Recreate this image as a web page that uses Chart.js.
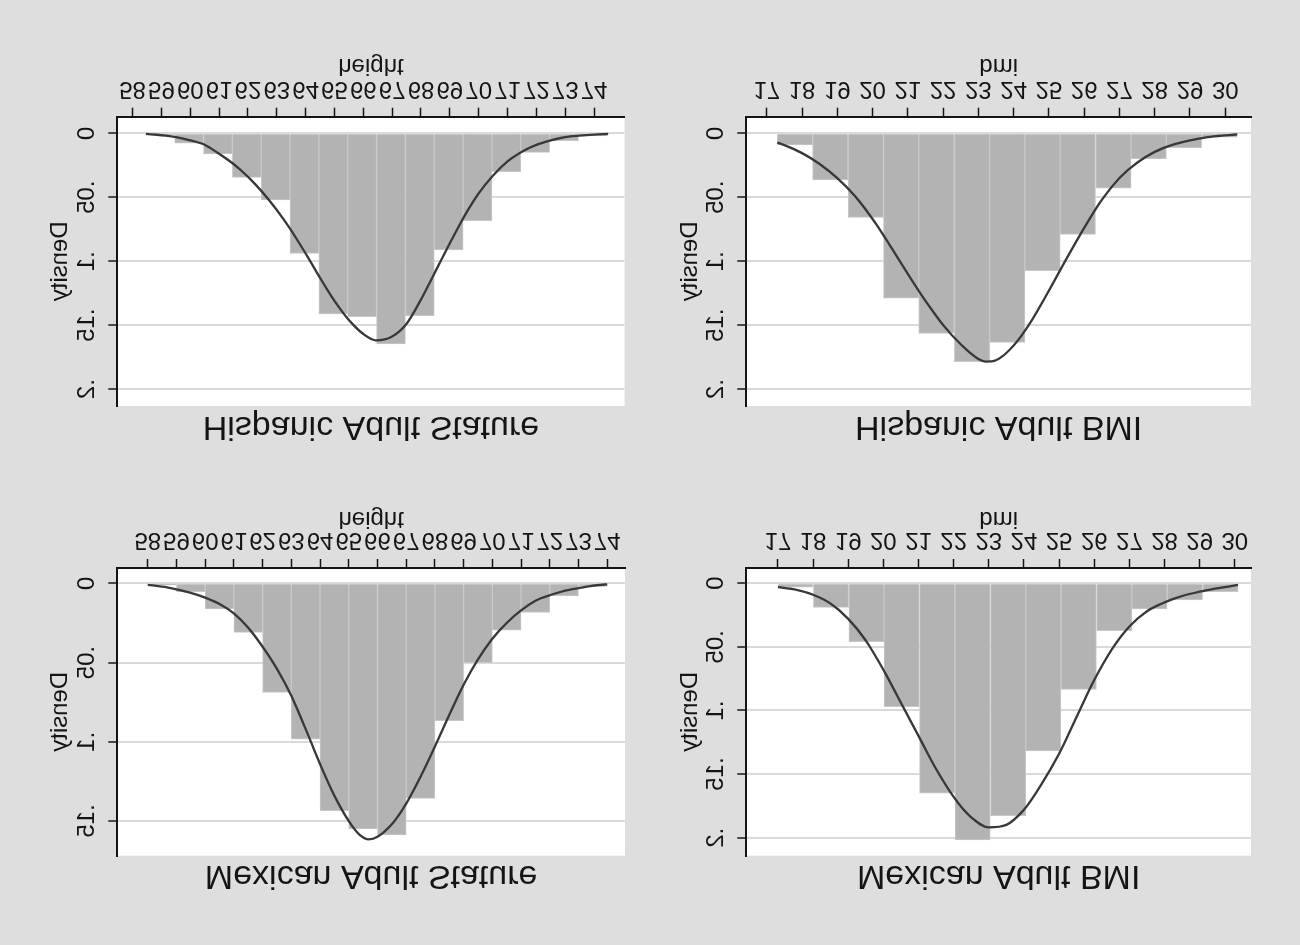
<!DOCTYPE html>
<html>
<head>
<meta charset="utf-8">
<script src="https://cdn.jsdelivr.net/npm/chart.js@4.4.1/dist/chart.umd.min.js"></script>
<style>
  html, body { margin: 0; padding: 0; background: #dedede; }
  #page { position: relative; width: 1300px; height: 945px; overflow: hidden; }
  canvas { position: absolute; transform: scaleY(-1); }
</style>
</head>
<body>
<div id="page">
  <canvas id="hispStature" width="650" height="473" style="left:0;top:0"></canvas>
  <canvas id="hispBmi" width="650" height="473" style="left:650px;top:0"></canvas>
  <canvas id="mexStature" width="650" height="472" style="left:0;top:473px"></canvas>
  <canvas id="mexBmi" width="650" height="472" style="left:650px;top:473px"></canvas>
</div>
<script>
  // tick labels
  const statureTicks = [58,59,60,61,62,63,64,65,66,67,68,69,70,71,72,73,74];
  const bmiTicks = [17,18,19,20,21,22,23,24,25,26,27,28,29,30];
  const densityTicks = [0, 0.05, 0.1, 0.15, 0.2];
  const densityLabels = ['0', '.05', '.1', '.15', '.2'];

  // Hispanic stature: histogram bins (centres) and heights, density curve
  const hispStatureBins = [58.96,59.96,60.96,61.96,62.96,63.96,64.96,65.96,66.96,67.96,68.96,69.96,70.96,71.96,72.96,73.96];
  const hispStatureHist = [0.001,0.0078,0.0162,0.0344,0.0521,0.0939,0.1413,0.1434,0.1648,0.1426,0.0913,0.0683,0.030,0.0149,0.0057,0.002];
  const hispStatureCurveX = [58.46,59,59.5,60,60.5,61,61.5,62,62.5,63,63.5,64,64.5,65,65.5,66,66.44,67,67.5,68,68.5,69,69.5,70,70.5,71,71.5,72,72.5,73,73.5,74,74.49];
  const hispStatureCurveY = [0.0005,0.0015,0.003,0.0055,0.009,0.016,0.024,0.034,0.046,0.060,0.076,0.094,0.113,0.131,0.146,0.157,0.162,0.159,0.149,0.130,0.108,0.086,0.065,0.047,0.033,0.022,0.0145,0.009,0.0055,0.003,0.0018,0.001,0.0005];

  // Hispanic BMI
  const hispBmiBins = [17.8,18.8,19.81,20.81,21.81,22.82,23.82,24.82,25.82,26.83,27.83,28.83,29.84];
  const hispBmiHist = [0.0091,0.0365,0.0657,0.129,0.1565,0.1786,0.1635,0.1074,0.079,0.043,0.020,0.0112,0.0031];
  const hispBmiCurveX = [17.3,17.5,18,18.5,19,19.5,20,20.5,21,21.5,22,22.5,23,23.2,23.5,24,24.5,25,25.5,26,26.5,27,27.5,28,28.5,29,29.5,30,30.34];
  const hispBmiCurveY = [0.0073,0.0092,0.0155,0.024,0.035,0.049,0.067,0.088,0.110,0.131,0.150,0.165,0.1765,0.1786,0.1775,0.166,0.147,0.123,0.098,0.074,0.052,0.035,0.023,0.0145,0.009,0.0055,0.003,0.0016,0.0009];

  // Mexican stature
  const mexStatureBins = [58.5,59.5,60.5,61.5,62.5,63.5,64.5,65.5,66.5,67.5,68.5,69.5,70.5,71.5,72.5,73.5];
  const mexStatureHist = [0.001,0.0053,0.0162,0.0309,0.0688,0.0983,0.1435,0.155,0.1588,0.1357,0.0867,0.0501,0.0295,0.0183,0.008,0.002];
  const mexStatureCurveX = [58,58.5,59,59.5,60,60.5,61,61.5,62,62.5,63,63.5,64,64.5,65,65.4,65.7,66,66.5,67,67.5,68,68.5,69,69.5,70,70.5,71,71.5,72,72.5,73,73.5,74];
  const mexStatureCurveY = [0.001,0.002,0.0038,0.006,0.009,0.013,0.019,0.028,0.040,0.054,0.071,0.092,0.114,0.134,0.150,0.159,0.1616,0.160,0.152,0.139,0.122,0.103,0.083,0.064,0.048,0.035,0.025,0.017,0.011,0.0075,0.0048,0.003,0.0015,0.0006];

  // Mexican BMI
  const mexBmiBins = [17.5,18.51,19.52,20.52,21.53,22.54,23.55,24.55,25.56,26.57,27.57,28.58,29.59];
  const mexBmiHist = [0.003,0.0189,0.0459,0.097,0.165,0.2018,0.1827,0.1318,0.0834,0.0372,0.0202,0.0131,0.0066];
  const mexBmiCurveX = [17,17.5,18,18.5,19,19.5,20,20.5,21,21.5,22,22.5,23,23.5,24,24.5,25,25.5,26,26.5,27,27.5,28,28.5,29,29.5,30.09];
  const mexBmiCurveY = [0.003,0.005,0.009,0.016,0.028,0.045,0.068,0.094,0.120,0.146,0.168,0.184,0.192,0.190,0.178,0.158,0.134,0.105,0.076,0.052,0.034,0.022,0.015,0.010,0.0066,0.004,0.0013];

  const FONT = "'Liberation Sans', Arial, Helvetica, sans-serif";
  const INK = '#141414';

  const plotBg = {
    id: 'plotBg',
    beforeDraw(chart) {
      const { ctx, chartArea: a } = chart;
      ctx.save();
      ctx.fillStyle = '#ffffff';
      ctx.fillRect(a.left, a.top, a.right - a.left, a.bottom - a.top);
      ctx.restore();
    }
  };

  function makePanel(id, p) {
    const yTicks = densityTicks.filter(v => v <= p.yMax);
    new Chart(document.getElementById(id), {
      type: 'bar',
      data: {
        datasets: [
          {
            type: 'line',
            data: p.curveX.map((x, i) => ({ x: x, y: p.curveY[i] })),
            borderColor: '#383838',
            borderWidth: 2.3,
            pointRadius: 0,
            fill: false,
            cubicInterpolationMode: 'monotone'
          },
          {
            type: 'bar',
            data: p.bins.map((x, i) => ({ x: x, y: p.hist[i] })),
            backgroundColor: '#b3b3b3',
            borderColor: '#c8c8c8',
            borderWidth: 1,
            barPercentage: 1,
            categoryPercentage: 1
          }
        ]
      },
      options: {
        responsive: false,
        animation: false,
        events: [],
        layout: { padding: { left: 0, right: p.right, top: 0, bottom: 0 } },
        plugins: {
          legend: { display: false },
          tooltip: { enabled: false },
          title: {
            display: true,
            fullSize: false,
            text: p.title,
            color: INK,
            font: { family: FONT, size: 34, weight: 'normal', lineHeight: 1.15 },
            padding: { top: p.titleTop, bottom: p.titleBottom }
          }
        },
        scales: {
          x: {
            type: 'linear',
            min: p.xMin,
            max: p.xMax,
            offset: false,
            afterBuildTicks: s => { s.ticks = p.xTicks.map(v => ({ value: v })); },
            afterFit: s => { s.height = p.xHeight; },
            grid: { offset: false, drawOnChartArea: false, drawTicks: true, tickLength: 9, tickColor: INK, tickWidth: 1.5 },
            border: { display: true, color: INK, width: 2 },
            ticks: {
              autoSkip: false, maxRotation: 0, minRotation: 0, padding: 4.8,
              color: INK, font: { family: FONT, size: 24 },
              callback: v => String(v)
            },
            title: {
              display: true, text: p.xTitle, color: INK,
              font: { family: FONT, size: 24 },
              padding: { top: 0, bottom: p.xTitlePad }
            }
          },
          y: {
            min: p.yMin,
            max: p.yMax,
            afterBuildTicks: s => { s.ticks = yTicks.map(v => ({ value: v })); },
            afterFit: s => { s.width = p.yWidth; },
            grid: { color: '#dadada', lineWidth: 2, drawTicks: true, tickLength: 9, tickColor: INK, tickWidth: 1.5 },
            border: { display: true, color: INK, width: 2 },
            ticks: {
              minRotation: 90, maxRotation: 90, crossAlign: 'center', padding: 4.6,
              color: INK, font: { family: FONT, size: 24 },
              callback: (v, i) => densityLabels[densityTicks.indexOf(yTicks[i])]
            },
            title: {
              display: true, text: 'Density', color: INK,
              font: { family: FONT, size: 24 },
              padding: { top: p.yTitlePad, bottom: 0 }
            }
          }
        }
      },
      plugins: [plotBg]
    });
  }

  makePanel('hispStature', {
    title: 'Hispanic Adult Stature', xTitle: 'height', xTicks: statureTicks,
    xMin: 57.47, xMax: 75.06, yMin: -0.013, yMax: 0.2133,
    bins: hispStatureBins, hist: hispStatureHist, curveX: hispStatureCurveX, curveY: hispStatureCurveY,
    yWidth: 117.3, xHeight: 116.7, right: 25.4, titleTop: 27.45, titleBottom: 0.45, yTitlePad: 45.6, xTitlePad: 50.8
  });
  makePanel('hispBmi', {
    title: 'Hispanic Adult BMI', xTitle: 'bmi', xTicks: bmiTicks,
    xMin: 16.42, xMax: 30.73, yMin: -0.013, yMax: 0.2133,
    bins: hispBmiBins, hist: hispBmiHist, curveX: hispBmiCurveX, curveY: hispBmiCurveY,
    yWidth: 96.3, xHeight: 116.7, right: 49, titleTop: 27.45, titleBottom: 0.45, yTitlePad: 25.6, xTitlePad: 50.8
  });
  makePanel('mexStature', {
    title: 'Mexican Adult Stature', xTitle: 'height', xTicks: statureTicks,
    xMin: 56.94, xMax: 74.62, yMin: -0.0097, yMax: 0.1719,
    bins: mexStatureBins, hist: mexStatureHist, curveX: mexStatureCurveX, curveY: mexStatureCurveY,
    yWidth: 117.3, xHeight: 95, right: 25, titleTop: 50.2, titleBottom: 0, yTitlePad: 45.6, xTitlePad: 31.3
  });
  makePanel('mexBmi', {
    title: 'Mexican Adult BMI', xTitle: 'bmi', xTicks: bmiTicks,
    xMin: 16.10, xMax: 30.46, yMin: -0.012, yMax: 0.2142,
    bins: mexBmiBins, hist: mexBmiHist, curveX: mexBmiCurveX, curveY: mexBmiCurveY,
    yWidth: 96.3, xHeight: 95, right: 49, titleTop: 50.2, titleBottom: 0, yTitlePad: 25.6, xTitlePad: 31.3
  });
</script>
</body>
</html>
